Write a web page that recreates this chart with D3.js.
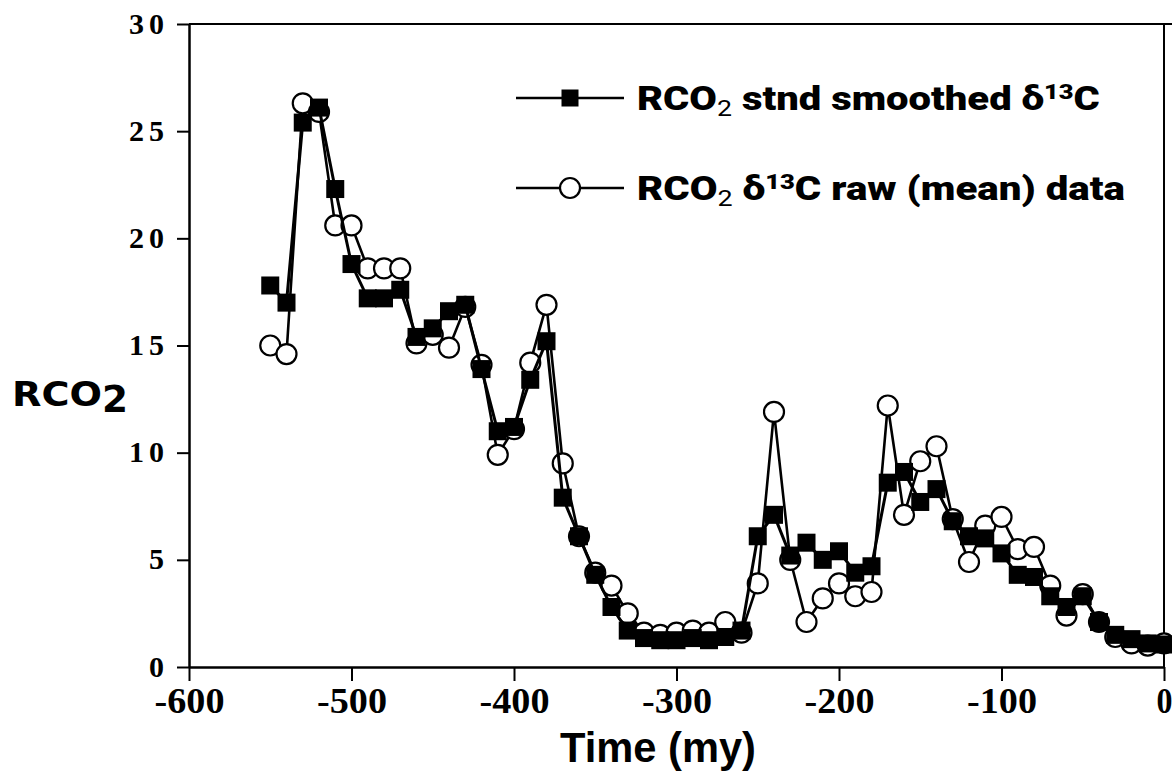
<!DOCTYPE html>
<html>
<head>
<meta charset="utf-8">
<script src="https://cdn.jsdelivr.net/npm/d3@7"></script>
<style>
  html, body { margin: 0; padding: 0; background: #fff; }
  svg { display: block; }
</style>
</head>
<body>
<svg id="chart" width="1172" height="773"></svg>
<script>
// ---- Data ----
const timeMy = [-550,-540,-530,-520,-510,-500,-490,-480,-470,-460,-450,-440,-430,-420,-410,-400,-390,-380,-370,-360,-350,-340,-330,-320,-310,-300,-290,-280,-270,-260,-250,-240,-230,-220,-210,-200,-190,-180,-170,-160,-150,-140,-130,-120,-110,-100,-90,-80,-70,-60,-50,-40,-30,-20,-10,0];
const smoothed = [17.8,17.0,25.4,26.1,22.3,18.8,17.2,17.2,17.6,15.4,15.8,16.6,16.9,13.9,11.0,11.2,13.4,15.2,7.9,6.1,4.3,2.8,1.7,1.35,1.25,1.25,1.35,1.25,1.4,1.7,6.1,7.1,5.2,5.8,5.0,5.4,4.4,4.7,8.6,9.1,7.7,8.3,6.8,6.1,6.0,5.3,4.3,4.2,3.3,2.8,3.3,2.1,1.5,1.3,1.1,1.05];
const raw = [15.0,14.6,26.3,25.9,20.6,20.6,18.6,18.6,18.6,15.1,15.5,14.9,16.8,14.1,9.9,11.1,14.2,16.9,9.5,6.1,4.4,3.8,2.5,1.6,1.5,1.6,1.7,1.6,2.1,1.6,3.9,11.9,5.0,2.1,3.2,3.9,3.3,3.5,12.2,7.1,9.6,10.3,6.9,4.9,6.6,7.0,5.5,5.6,3.8,2.4,3.4,2.1,1.4,1.1,1.0,1.1];
const xTicks = [-600,-500,-400,-300,-200,-100,0];
const yTicks = [0,5,10,15,20,25,30];
const legendLabels = ["smoothed", "raw"];

// ---- Layout ----
const svg = d3.select("#chart");
const x = d3.scaleLinear().domain([-600, 0]).range([189, 1164]);
const y = d3.scaleLinear().domain([0, 30]).range([667, 24]);

const serif = "'Liberation Serif', 'DejaVu Serif', serif";
const sans = "'Liberation Sans', Arial, sans-serif";
const fmt = d => String(d).replace("\u2212", "-");

// Frame (top and right)
svg.append("line").attr("x1", x(-600)).attr("x2", 1172).attr("y1", y(30)).attr("y2", y(30))
  .attr("stroke", "#000").attr("stroke-width", 2);
svg.append("line").attr("x1", x(0)).attr("x2", x(0)).attr("y1", y(30)).attr("y2", y(0))
  .attr("stroke", "#000").attr("stroke-width", 2);

// X axis
const xAxis = d3.axisBottom(x).tickValues(xTicks).tickSize(14).tickSizeOuter(0).tickFormat(fmt);
const gx = svg.append("g").attr("transform", `translate(0,${y(0)})`).call(xAxis);
gx.select(".domain").attr("stroke-width", 2.5);
gx.selectAll(".tick line").attr("stroke-width", 2);
gx.selectAll(".tick text")
  .attr("y", 20).attr("dy", "0.71em")
  .attr("font-family", serif).attr("font-weight", "bold").attr("font-size", 36)
  .attr("fill", "#000")
  .attr("textLength", d => d === 0 ? 16 : 70).attr("lengthAdjust", "spacingAndGlyphs");

// Y axis
const yAxis = d3.axisLeft(y).tickValues(yTicks).tickSize(12).tickSizeOuter(0).tickFormat(fmt);
const gy = svg.append("g").attr("transform", `translate(${x(-600)},0)`).call(yAxis);
gy.select(".domain").attr("stroke-width", 2.5);
gy.selectAll(".tick line").attr("stroke-width", 2);
gy.selectAll(".tick text")
  .attr("x", -20).attr("dy", "0.3em")
  .attr("font-family", serif).attr("font-weight", "bold").attr("font-size", 30)
  .attr("letter-spacing", 5).attr("fill", "#000");

// Axis titles
svg.append("text").attr("x", 658).attr("y", 762).attr("text-anchor", "middle")
  .attr("font-family", sans).attr("font-weight", "bold").attr("font-size", 42)
  .attr("textLength", 196).attr("lengthAdjust", "spacingAndGlyphs")
  .text("Time (my)");

const yt = svg.append("text").attr("x", 12).attr("y", 406)
  .attr("font-family", "'DejaVu Sans', sans-serif").attr("font-weight", "bold").attr("font-size", 34);
yt.append("tspan").attr("textLength", 90).attr("lengthAdjust", "spacingAndGlyphs").text("RCO");
yt.append("tspan").attr("dy", 6).attr("font-size", 38).attr("textLength", 26).attr("lengthAdjust", "spacingAndGlyphs").text("2");

// Series
const lineGen = vals => d3.line().x((d, i) => x(timeMy[i])).y(d => y(d))(vals);

svg.append("path").attr("d", lineGen(raw)).attr("fill", "none").attr("stroke", "#000").attr("stroke-width", 2.6);
svg.append("g").selectAll("circle").data(raw).join("circle")
  .attr("cx", (d, i) => x(timeMy[i])).attr("cy", d => y(d)).attr("r", 10)
  .attr("fill", "#fff").attr("stroke", "#000").attr("stroke-width", 2.2);

svg.append("path").attr("d", lineGen(smoothed)).attr("fill", "none").attr("stroke", "#000").attr("stroke-width", 3);
const sq = 18;
svg.append("g").selectAll("rect").data(smoothed).join("rect")
  .attr("x", (d, i) => x(timeMy[i]) - sq / 2).attr("y", d => y(d) - sq / 2)
  .attr("width", sq).attr("height", sq).attr("fill", "#000");

// Legend
const legendFont = "'Roboto', 'Liberation Sans', sans-serif";
const rows = [
  { key: legendLabels[0], cy: 98, width: 463 },
  { key: legendLabels[1], cy: 188, width: 488 }
];
rows.forEach(r => {
  svg.append("line").attr("x1", 516).attr("x2", 624).attr("y1", r.cy).attr("y2", r.cy)
    .attr("stroke", "#000").attr("stroke-width", 2.4);
  if (r.key === "smoothed") {
    svg.append("rect").attr("x", 570 - 8.5).attr("y", r.cy - 8.5).attr("width", 17).attr("height", 17).attr("fill", "#000");
  } else {
    svg.append("circle").attr("cx", 570).attr("cy", r.cy).attr("r", 10)
      .attr("fill", "#fff").attr("stroke", "#000").attr("stroke-width", 2.2);
  }
  const t = svg.append("text").attr("x", 637).attr("y", r.cy + 12)
    .attr("font-family", legendFont).attr("font-weight", "900").attr("font-size", 33);
  if (r.key === "smoothed") {
    t.append("tspan").text("RCO");
    t.append("tspan").attr("font-size", 22).attr("font-weight", "normal").attr("dy", 6).text("2");
    t.append("tspan").attr("dy", -6).text(" stnd smoothed δ");
    t.append("tspan").attr("font-size", 21).attr("dy", -11).text("13");
    t.append("tspan").attr("dy", 11).text("C");
  } else {
    t.append("tspan").text("RCO");
    t.append("tspan").attr("font-size", 22).attr("font-weight", "normal").attr("dy", 6).text("2");
    t.append("tspan").attr("dy", -6).text(" δ");
    t.append("tspan").attr("font-size", 21).attr("dy", -11).text("13");
    t.append("tspan").attr("dy", 11).text("C raw (mean) data");
  }
  const w = t.node().getComputedTextLength();
  t.attr("transform", `translate(637,0) scale(${r.width / w},1) translate(-637,0)`);
});
</script>
</body>
</html>
